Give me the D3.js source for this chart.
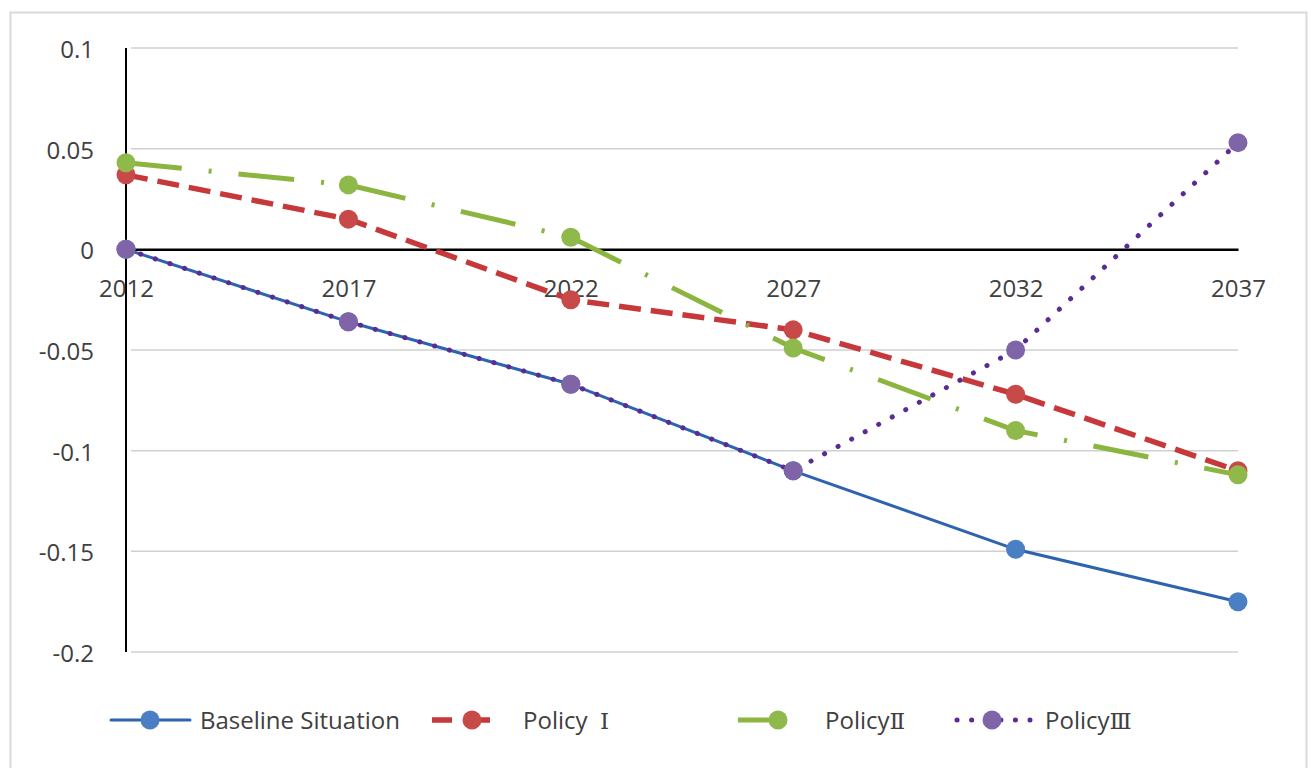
<!DOCTYPE html>
<html>
<head>
<meta charset="utf-8">
<script src="https://cdn.jsdelivr.net/npm/d3@7"></script>
<style>
  html, body { margin: 0; padding: 0; background: #fff; }
  text { font-family: "Open Sans", "Noto Sans", sans-serif; fill: #404040; }
</style>
</head>
<body>
<div id="chart"></div>
<script>
const years = ["2012", "2017", "2022", "2027", "2032", "2037"];
const yTicks = [0.1, 0.05, 0, -0.05, -0.1, -0.15, -0.2];
const yTickLabels = ["0.1", "0.05", "0", "-0.05", "-0.1", "-0.15", "-0.2"];

const baseline = [0, -0.036, -0.067, -0.110, -0.149, -0.175];
const policy1  = [0.037, 0.015, -0.025, -0.040, -0.072, -0.110];
const policy2  = [0.043, 0.032, 0.006, -0.049, -0.090, -0.112];
const policy3  = [0, -0.036, -0.067, -0.110, -0.050, 0.053];

// legend names: plain part + roman numeral part
const seriesNames = [["Baseline Situation", ""], ["Policy  ", "\u2160"], ["Policy", "\u2161"], ["Policy", "\u2162"]];

const W = 1311, H = 768;
const margin = {top: 48, right: 73, bottom: 116, left: 126};
const width = W - margin.left - margin.right,
      height = H - margin.top - margin.bottom;

const svg = d3.select("#chart")
  .append("svg")
    .attr("width", W)
    .attr("height", H);

// outer frame
svg.append("rect")
  .attr("x", 10.5).attr("y", 12.5)
  .attr("width", 1296).attr("height", 800)
  .attr("fill", "none")
  .attr("stroke", "#d9d9d9")
  .attr("stroke-width", 2);

const g = svg.append("g")
  .attr("transform", "translate(" + margin.left + "," + margin.top + ")");

const x = d3.scalePoint()
  .domain(years)
  .range([0, width]);

const y = d3.scaleLinear()
  .domain([-0.2, 0.1])
  .range([height, 0]);

// gridlines
g.append("g")
  .attr("class", "grid")
  .selectAll("line")
  .data(yTicks.filter(d => d !== 0))
  .enter()
  .append("line")
    .attr("x1", 5)
    .attr("x2", width)
    .attr("y1", d => y(d))
    .attr("y2", d => y(d))
    .attr("stroke", "#d0d0d0")
    .attr("stroke-width", 1.5);

// y axis labels
const yAxis = d3.axisLeft(y)
  .tickValues(yTicks)
  .tickSize(0)
  .tickPadding(32)
  .tickFormat((d, i) => yTickLabels[i]);

g.append("g")
  .attr("class", "y-axis")
  .call(yAxis)
  .call(a => a.select(".domain").remove())
  .selectAll("text")
    .attr("dy", "0.4em")
    .style("font-size", "24px")
    .style("font-family", "'Open Sans', sans-serif")
    .attr("fill", "#404040");

// y axis line
g.append("line")
  .attr("x1", 0).attr("x2", 0)
  .attr("y1", y(0.1)).attr("y2", y(-0.2))
  .attr("stroke", "#000")
  .attr("stroke-width", 2);

// x axis (at zero)
const xAxis = d3.axisBottom(x).tickSize(0).tickPadding(31);
g.append("g")
  .attr("class", "x-axis")
  .attr("transform", "translate(0," + y(0) + ")")
  .call(xAxis)
  .call(a => a.select(".domain")
      .attr("stroke", "#000")
      .attr("stroke-width", 2.5))
  .selectAll("text")
    .style("font-size", "24px")
    .style("font-family", "'Open Sans', sans-serif")
    .attr("fill", "#404040");

const series = [
  {name: seriesNames[0], values: baseline, line: "#2e63b0", marker: "#4a7fc4", width: 3,   dash: null, cap: "round"},
  {name: seriesNames[1], values: policy1,  line: "#c6383a", marker: "#c84a48", width: 5.5, dash: "22,10", cap: "butt"},
  {name: seriesNames[2], values: policy2,  line: "#8cb540", marker: "#8fb94a", width: 5,   dash: "56,27,3,27", cap: "butt"},
  {name: seriesNames[3], values: policy3,  line: "#5a2b92", marker: "#8064a8", width: 5,   dash: "0.1,15.3", cap: "round"}
];

const line = d3.line()
  .x((d, i) => x(years[i]))
  .y(d => y(d));

series.forEach(s => {
  g.append("path")
    .datum(s.values)
    .attr("fill", "none")
    .attr("stroke", s.line)
    .attr("stroke-width", s.width)
    .attr("stroke-linecap", s.cap)
    .attr("stroke-dasharray", s.dash)
    .attr("d", line);

  g.selectAll(null)
    .data(s.values)
    .enter()
    .append("circle")
      .attr("cx", (d, i) => x(years[i]))
      .attr("cy", d => y(d))
      .attr("r", 9.5)
      .attr("fill", s.marker);
});

// legend
const legendY = 720;
const legendItems = [
  {s: series[0], x1: 111, x2: 190, mx: 150, tx: 200, dash: null},
  {s: series[1], x1: 432, x2: 507, mx: 472, tx: 523, dash: "20,18"},
  {s: series[2], x1: 738, x2: 778, mx: 778, tx: 825, dash: null},
  {s: series[3], x1: 957, x2: 1030, mx: 992, tx: 1045, dash: "0.1,14.5"}
];

const legend = svg.append("g").attr("class", "legend");
legendItems.forEach(it => {
  legend.append("line")
    .attr("x1", it.x1).attr("x2", it.x2)
    .attr("y1", legendY).attr("y2", legendY)
    .attr("stroke", it.s.line)
    .attr("stroke-width", it.s.width)
    .attr("stroke-linecap", it.s.cap)
    .attr("stroke-dasharray", it.dash);
  legend.append("circle")
    .attr("cx", it.mx).attr("cy", legendY)
    .attr("r", 9.5)
    .attr("fill", it.s.marker);
  const t = legend.append("text")
    .attr("x", it.tx).attr("y", legendY)
    .attr("dy", "0.36em")
    .style("font-size", "24px")
    .style("white-space", "pre");
  t.append("tspan").text(it.s.name[0]);
  t.append("tspan")
    .style("font-family", "'DejaVu Serif', 'Liberation Serif', serif")
    .style("font-size", "23px")
    .text(it.s.name[1]);
});
</script>
</body>
</html>
